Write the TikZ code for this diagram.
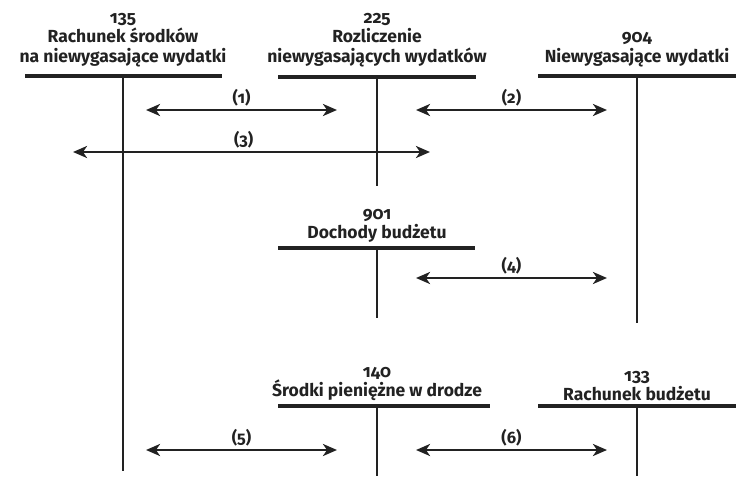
\documentclass[tikz,border=0pt]{standalone}
\usepackage{fontspec}
\setmainfont[Numbers=OldStyle]{Fira Sans}
\usetikzlibrary{arrows.meta}
\definecolor{ink}{HTML}{222222}
\begin{document}
\begin{tikzpicture}[x=1pt,y=-1pt,
  title/.style={font=\fontsize{17.5}{19.5}\selectfont\bfseries, text=ink, align=center, anchor=south, inner sep=0pt},
  hbar/.style={draw=ink, line width=3.2pt},
  vbar/.style={draw=ink, line width=2.4pt},
  flow/.style={draw=ink, line width=2.6pt, {Stealth[length=14pt,width=12pt,inset=4pt]}-{Stealth[length=14pt,width=12pt,inset=4pt]}},
  num/.style={font=\fontsize{16.5}{18}\selectfont\bfseries, text=ink, anchor=south, inner sep=0pt}]
\useasboundingbox (0,0) rectangle (755,495);
% titles
\node[title] (t135) at (123,67) {135\\Rachunek środków\\na niewygasające wydatki};
\node[title] (t225) at (377,67) {225\\Rozliczenie\\niewygasających wydatków};
\node[title] (t904) at (637,67) {904\\Niewygasające wydatki};
\node[title] (t901) at (377,243) {901\\Dochody budżetu};
\node[title] (t140) at (377,401) {140\\Środki pieniężne w drodze};
\node[title] (t133) at (637,401) {133\\Rachunek budżetu};
% T-accounts
\draw[hbar] (25,76) -- (222,76);
\draw[vbar] (123,76) -- (123,471);
\draw[hbar] (278,77) -- (476,77);
\draw[vbar] (377,77) -- (377,186);
\draw[hbar] (538,76) -- (736,76);
\draw[vbar] (637,76) -- (637,323);
\draw[hbar] (278,248) -- (475,248);
\draw[vbar] (377,248) -- (377,318);
\draw[hbar] (278,406) -- (490,406);
\draw[vbar] (377,406) -- (377,476);
\draw[hbar] (538,406) -- (736,406);
\draw[vbar] (637,406) -- (637,476);
% arrow end points
\coordinate (a1) at (146,110); \coordinate (b1) at (337,110);
\coordinate (a2) at (416,110); \coordinate (b2) at (607,110);
\coordinate (a3) at (73,152);  \coordinate (b3) at (430,152);
\coordinate (a4) at (416,278); \coordinate (b4) at (607,278);
\coordinate (a5) at (146,450); \coordinate (b5) at (337,450);
\coordinate (a6) at (416,450); \coordinate (b6) at (607,450);
\draw[flow] (a1) -- (b1) node[num, midway, above=3pt] (l1) {(1)};
\draw[flow] (a2) -- (b2) node[num, midway, above=3pt] (l2) {(2)};
\draw[flow] (a3) -- (b3) node[num, pos=0.478, above=3pt] (l3) {(3)};
\draw[flow] (a4) -- (b4) node[num, midway, above=3pt] (l4) {(4)};
\draw[flow] (a5) -- (b5) node[num, midway, above=3pt] (l5) {(5)};
\draw[flow] (a6) -- (b6) node[num, midway, above=3pt] (l6) {(6)};
\end{tikzpicture}
\end{document}
